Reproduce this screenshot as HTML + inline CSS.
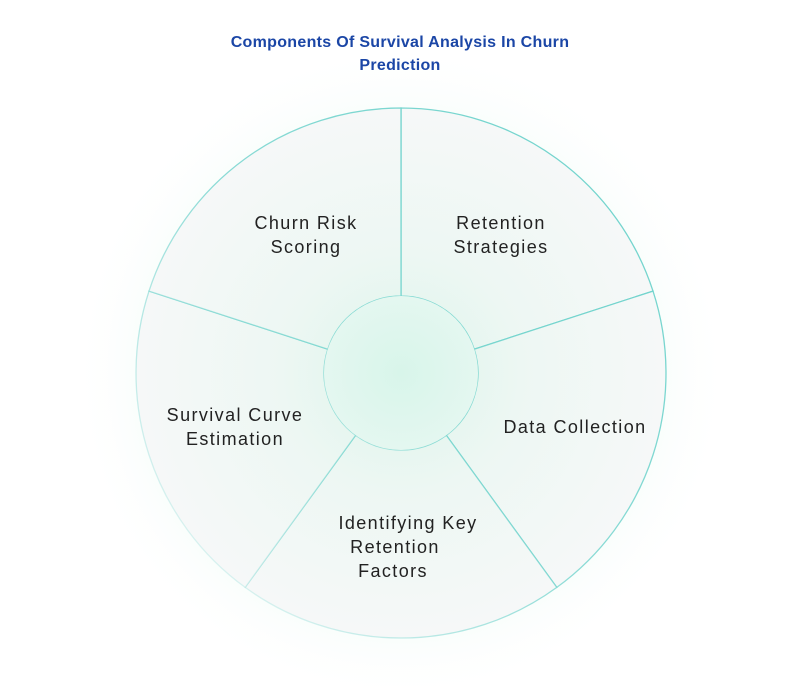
<!DOCTYPE html>
<html><head><meta charset="utf-8"><style>
html,body{margin:0;padding:0;background:#fff;}
body{width:802px;height:686px;overflow:hidden;font-family:"Liberation Sans",sans-serif;}
</style></head><body>
<svg width="802" height="686" viewBox="0 0 802 686" xmlns="http://www.w3.org/2000/svg">
<defs>
<radialGradient id="glow" cx="401" cy="373" r="330" gradientUnits="userSpaceOnUse">
<stop offset="0" stop-color="#c9f2e2" stop-opacity="0.9"/>
<stop offset="0.6" stop-color="#e0f7ee" stop-opacity="0.7"/>
<stop offset="1" stop-color="#ffffff" stop-opacity="0"/>
</radialGradient>
<radialGradient id="fill" cx="401" cy="373" r="265" gradientUnits="userSpaceOnUse">
<stop offset="0" stop-color="#dcf5eb"/>
<stop offset="0.45" stop-color="#edf7f3"/>
<stop offset="1" stop-color="#f6f8f8"/>
</radialGradient>
<radialGradient id="inner" cx="401" cy="373" r="77" gradientUnits="userSpaceOnUse">
<stop offset="0" stop-color="#d8f5ea"/>
<stop offset="1" stop-color="#e4f7f0"/>
</radialGradient>
<linearGradient id="st" x1="640" y1="150" x2="160" y2="600" gradientUnits="userSpaceOnUse">
<stop offset="0" stop-color="#6fd3cc" stop-opacity="1"/>
<stop offset="0.5" stop-color="#6fd3cc" stop-opacity="0.8"/>
<stop offset="1" stop-color="#6fd3cc" stop-opacity="0.1"/>
</linearGradient>
</defs>
<ellipse cx="401" cy="373" rx="370" ry="330" fill="url(#glow)"/>
<g fill="url(#fill)" stroke="url(#st)" stroke-width="1.3">
<path d="M401,108 A265,265 0 0 1 653,291.1 L474.2,349.2 A77,77 0 0 0 401,296 Z"/>
<path d="M653,291.1 A265,265 0 0 1 556.8,587.4 L446.3,435.3 A77,77 0 0 0 474.2,349.2 Z"/>
<path d="M556.8,587.4 A265,265 0 0 1 245.2,587.4 L355.7,435.3 A77,77 0 0 0 446.3,435.3 Z"/>
<path d="M245.2,587.4 A265,265 0 0 1 149,291.1 L327.8,349.2 A77,77 0 0 0 355.7,435.3 Z"/>
<path d="M149,291.1 A265,265 0 0 1 401,108 L401,296 A77,77 0 0 0 327.8,349.2 Z"/>
</g>
<circle cx="401" cy="373" r="77" fill="url(#inner)" stroke="none"/>
<g font-family="Liberation Sans, sans-serif" font-weight="bold" font-size="16" fill="#1b46a6" text-anchor="middle" letter-spacing="0.3">
<text x="400" y="47">Components Of Survival Analysis In Churn</text>
<text x="400" y="70">Prediction</text>
</g>
<g font-family="Liberation Sans, sans-serif" font-size="18" fill="#222" text-anchor="middle" letter-spacing="1.4">
<text x="306" y="229">Churn Risk</text>
<text x="306" y="253">Scoring</text>
<text x="501" y="229">Retention</text>
<text x="501" y="253">Strategies</text>
<text x="575" y="433">Data Collection</text>
<text x="235" y="421">Survival Curve</text>
<text x="235" y="445">Estimation</text>
<text x="408" y="529">Identifying Key</text>
<text x="395" y="553">Retention</text>
<text x="393" y="577">Factors</text>
</g>
</svg>
</body></html>
